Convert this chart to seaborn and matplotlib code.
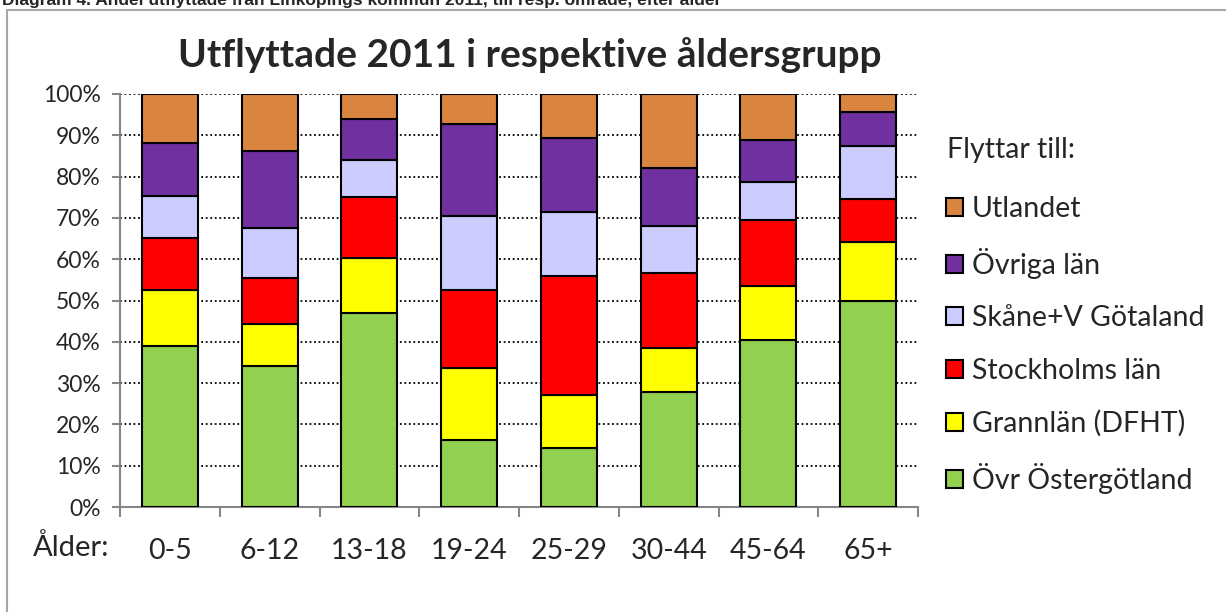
import numpy as np
import pandas as pd
import matplotlib
matplotlib.use("Agg")
import matplotlib.pyplot as plt
import seaborn as sns
from matplotlib.patches import Patch
from matplotlib.lines import Line2D
from matplotlib.ticker import PercentFormatter, MultipleLocator

# Andel utflyttade (%) per åldersgrupp och destination
AGE_GROUPS = ["0-5", "6-12", "13-18", "19-24", "25-29", "30-44", "45-64", "65+"]
DESTINATIONS = ["Övr Östergötland", "Grannlän (DFHT)", "Stockholms län",
                "Skåne+V Götaland", "Övriga län", "Utlandet"]

ovr_ostergotland = [39.1, 34.2, 46.9, 16.3, 14.4, 27.9, 40.4, 49.9]
grannlan = [13.5, 10.1, 13.5, 17.4, 12.6, 10.7, 13.2, 14.3]
stockholms_lan = [12.6, 11.2, 14.6, 18.8, 28.9, 18.0, 16.0, 10.3]
skane_vgotaland = [10.2, 12.1, 9.0, 18.0, 15.6, 11.5, 9.2, 13.0]
ovriga_lan = [12.7, 18.5, 9.9, 22.3, 17.9, 14.1, 10.1, 8.2]
utlandet = [11.9, 13.9, 6.1, 7.2, 10.6, 17.8, 11.1, 4.3]

SERIES = [ovr_ostergotland, grannlan, stockholms_lan,
          skane_vgotaland, ovriga_lan, utlandet]
COLORS = ["#92D050", "#FFFF00", "#FF0000", "#CCCCFF", "#7030A0", "#D9843F"]

FONT = ["Lato", "DejaVu Sans"]

sns.set_style("white")
plt.rcParams["font.family"] = FONT

df = pd.DataFrame({"age": np.repeat(AGE_GROUPS, len(DESTINATIONS)),
                   "dest": DESTINATIONS * len(AGE_GROUPS),
                   "share": np.array(SERIES).T.ravel()})

fig = plt.figure(figsize=(12.26, 6.12), dpi=100)
ax = fig.add_axes([120 / 1226, 105 / 612, 798 / 1226, 413 / 612])

bottom = np.zeros(len(AGE_GROUPS))
for dest, color in zip(DESTINATIONS, COLORS):
    sub = df[df["dest"] == dest].set_index("age").loc[AGE_GROUPS].reset_index()
    sns.barplot(data=sub, x="age", y="share", order=AGE_GROUPS, color=color,
                saturation=1, width=0.56, bottom=bottom, edgecolor="black",
                linewidth=1.5, errorbar=None, ax=ax, zorder=3)
    bottom = bottom + sub["share"].values

ax.set_xlim(-0.5, len(AGE_GROUPS) - 0.5)
ax.set_ylim(0, 100)
ax.yaxis.set_major_locator(MultipleLocator(10))
ax.yaxis.set_major_formatter(PercentFormatter(xmax=100, decimals=0))
ax.grid(axis="y", color="black", linestyle=(0, (1, 1.5)), linewidth=1.3, zorder=0)
ax.grid(axis="x", visible=False)
ax.set_axisbelow(True)

for side in ["top", "right"]:
    ax.spines[side].set_visible(False)
for side in ["left", "bottom"]:
    ax.spines[side].set_color("#868686")
    ax.spines[side].set_linewidth(1.5)

ax.set_xlabel("")
ax.set_ylabel("")
ax.tick_params(axis="y", direction="out", length=6, width=1.5, color="#868686",
               labelsize=16.5, pad=8, left=True)
ax.tick_params(axis="x", which="major", length=0, labelsize=20.5, pad=22)
ax.set_xticks(np.arange(-0.5, len(AGE_GROUPS)), minor=True)
ax.tick_params(axis="x", which="minor", direction="out", length=7, width=1.5,
               color="#868686", bottom=True)

ax.text(0.514, 1.065, "Utflyttade 2011 i respektive åldersgrupp", fontsize=28,
        fontweight="bold", ha="center", va="baseline", transform=ax.transAxes)

fig.text(33 / 1226, 1 - 547 / 612, "Ålder:", fontsize=21, va="center", ha="left")

fig.text(947 / 1226, 1 - 150 / 612, "Flyttar till:", fontsize=20.5,
         va="center", ha="left")
handles = [Patch(facecolor=c, edgecolor="black", linewidth=1.5) for c in COLORS][::-1]
fig.legend(handles, DESTINATIONS[::-1], loc="upper left",
           bbox_to_anchor=(946 / 1226, 1 - 196 / 612), frameon=False,
           fontsize=20.5, borderpad=0, borderaxespad=0,
           handlelength=0.6, handleheight=0.6,
           handletextpad=0.3, labelspacing=0.92)

fig.text(2 / 1226, 1 - 5 / 612,
         "Diagram 4. Andel utflyttade från Linköpings kommun 2011, till resp. område, efter ålder",
         fontsize=12.5, fontweight="bold", va="baseline", ha="left",
         family=["Liberation Sans", "DejaVu Sans"])

frame_color = "#A6A6A6"
fig.add_artist(Line2D([7 / 1226, 7 / 1226], [0, 1 - 10 / 612], color=frame_color,
                      linewidth=1.5, transform=fig.transFigure))
fig.add_artist(Line2D([7 / 1226, 1], [1 - 10 / 612, 1 - 10 / 612], color=frame_color,
                      linewidth=1.5, transform=fig.transFigure))

fig.savefig("out.png", dpi=100)
